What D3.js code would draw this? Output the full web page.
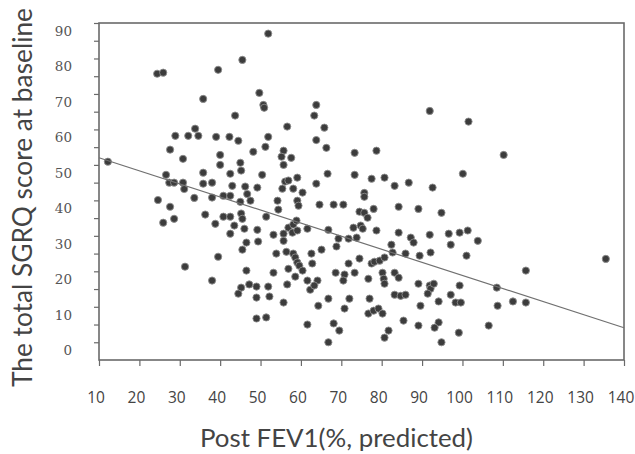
<!DOCTYPE html>
<html>
<head>
<meta charset="utf-8">
<script src="https://cdn.jsdelivr.net/npm/d3@7"></script>
<style>
  body { margin: 0; background: #ffffff; }
  svg { display: block; }
</style>
</head>
<body>
<svg id="chart" width="635" height="454"></svg>
<script>
// Post-bronchodilator FEV1 (% predicted) for each patient
const fevPredicted = [
  24.4,25.9,35.8,28.9,32.1,33.8,34.6,27.6,30.8,12.2,26.6,35.8,27.4,28.6,30.8,31.1,35.8,33.6,24.6,27.6,36.3,28.6,25.9,31.3,
  51.9,45.5,39.5,49.7,50.7,50.9,43.7,56.6,63.8,63.3,39.0,42.3,44.5,51.9,51.2,63.8,48.2,55.7,40.0,55.2,57.6,40.0,45.0,55.7,45.2,42.5,50.4,59.1,56.1,56.9,38.0,43.0,46.2,49.2,55.4,58.1,
  38.0,40.8,42.5,60.4,45.0,46.7,47.5,54.2,59.1,59.4,40.8,42.5,45.2,45.5,51.4,54.4,38.8,43.5,46.0,49.2,42.5,53.2,55.7,56.9,58.1,57.9,59.1,61.6,58.9,55.7,49.4,46.5,45.5,39.5,53.9,56.4,58.1,58.6,59.1,59.6,60.4,62.6,62.8,56.9,58.6,53.2,46.5,38.0,45.2,44.5,47.2,49.0,51.9,56.6,61.6,62.3,49.0,52.2,55.7,49.0,51.4,61.6,
  65.8,66.3,73.3,78.7,66.6,63.8,73.3,77.5,80.7,83.2,86.7,75.7,75.7,64.6,68.1,70.5,84.2,89.1,74.5,75.7,78.0,76.5,73.0,74.8,75.3,78.7,84.2,87.2,87.9,66.8,69.3,71.8,73.8,68.8,82.4,82.7,85.9,89.4,65.1,74.5,71.8,68.6,70.8,70.5,73.3,77.5,78.2,79.5,80.7,76.7,80.2,80.5,80.7,83.2,84.2,64.1,63.3,89.1,83.2,84.7,85.9,66.8,72.0,77.0,64.3,70.8,76.7,78.0,79.2,80.2,85.4,89.1,68.1,69.5,81.7,80.7,66.8,
  91.9,101.5,110.2,100.1,92.6,94.8,91.9,96.6,99.3,101.3,103.8,97.1,92.1,101.0,91.9,92.1,91.4,92.9,99.3,97.1,98.3,99.6,94.1,89.6,108.5,108.7,112.5,115.7,115.7,94.1,93.1,99.1,106.5,94.8,135.5
];

// Total SGRQ score at baseline, same order as above
const sgrqTotal = [
  75.7,76.0,68.6,58.2,58.2,60.2,58.2,54.3,51.7,50.9,47.2,47.8,45.0,45.0,45.0,43.2,44.7,40.7,40.1,38.2,36.0,34.8,33.7,21.3,
  87.0,79.6,76.8,70.3,66.9,66.1,63.9,60.8,66.9,63.9,57.9,57.9,56.8,57.9,55.1,57.0,53.7,54.0,52.8,52.3,52.0,50.0,50.6,50.0,48.4,47.5,47.2,46.4,45.3,45.6,45.0,44.1,43.9,43.6,43.3,43.3,
  40.8,41.3,41.3,42.2,39.6,41.8,39.9,39.9,39.9,38.5,35.4,35.4,36.3,34.8,35.4,37.4,33.4,32.9,32.0,31.7,30.6,30.3,30.6,32.3,33.2,30.9,31.5,32.0,34.3,28.6,28.4,28.1,26.1,24.1,25.0,25.5,25.0,23.9,22.5,21.6,20.2,25.0,22.2,20.7,18.5,19.6,20.2,17.4,15.4,13.7,16.3,15.7,15.7,16.3,17.4,14.8,12.6,12.9,11.2,6.7,7.0,5.0,
  60.5,54.8,53.4,54.0,47.5,44.7,47.2,46.1,46.4,44.1,45.0,42.1,41.0,38.8,38.8,38.8,38.2,37.6,36.8,36.5,37.6,35.1,32.3,32.9,32.0,31.5,30.9,29.5,28.1,31.7,29.2,29.2,29.5,27.0,27.5,25.3,25.0,24.4,26.1,23.6,22.2,19.6,19.1,17.4,19.6,22.2,22.7,23.0,23.9,17.9,19.6,17.9,16.5,19.6,18.2,17.4,16.0,16.5,13.4,13.1,13.4,12.3,12.3,12.3,10.3,9.5,8.1,8.9,9.5,8.1,6.1,4.7,5.3,3.3,3.3,1.3,0.0,
  65.2,62.2,52.8,47.5,43.6,36.5,30.3,30.6,30.9,31.5,28.6,27.5,25.3,24.4,16.0,15.1,13.7,16.5,16.0,13.4,11.2,11.2,11.5,10.3,15.4,10.3,11.5,11.2,20.2,5.6,4.1,2.7,4.7,0.0,23.5
];

// Linear fit drawn across the full x range
const fitX = [10, 140];
const fitY = [52.0, 4.1];

const xTickValues = [10, 20, 30, 40, 50, 60, 70, 80, 90, 100, 110, 120, 130, 140];
const yTickValues = [0, 10, 20, 30, 40, 50, 60, 70, 80, 90];
const yMinorTicks = d3.range(0, 91, 5);

const xTitle = "Post FEV1(%, predicted)";
const yTitle = "The total SGRQ score at baseline";

const svg = d3.select("#chart");
const plot = { left: 99, right: 624, top: 23, bottom: 360 };

const x = d3.scaleLinear().domain([10, 140]).range([plot.left, plot.right]);
const y = d3.scaleLinear().domain([-5, 90]).range([plot.bottom, plot.top]);

const axisColor = "#6a6a6a";

// Y axis: short ticks every 5 units, labels every 10 (sitting slightly below their ticks)
const yAxis = svg.append("g")
  .attr("transform", `translate(${plot.left},0)`)
  .call(d3.axisLeft(y).tickValues(yMinorTicks).tickSize(5).tickFormat(""));
yAxis.select(".domain").remove();
yAxis.selectAll(".tick line").attr("stroke", axisColor).attr("stroke-width", 1.2);

svg.append("g").selectAll("text")
  .data(yTickValues)
  .join("text")
  .attr("x", 72)
  .attr("y", d => y(d) + 8)
  .attr("dy", "0.35em")
  .attr("text-anchor", "end")
  .attr("font-family", "DejaVu Serif")
  .attr("font-size", 13.5)
  .attr("fill", "#555")
  .text(d => d);

// X axis: ticks every 10 hanging below the frame
const xAxis = svg.append("g")
  .attr("transform", `translate(0,${plot.bottom})`)
  .call(d3.axisBottom(x).tickValues(xTickValues).tickSize(6).tickFormat(""));
xAxis.select(".domain").remove();
xAxis.selectAll(".tick line").attr("stroke", axisColor).attr("stroke-width", 1.2);

svg.append("g").selectAll("text")
  .data(xTickValues)
  .join("text")
  .attr("x", d => x(d) - 3)
  .attr("y", 403)
  .attr("text-anchor", "middle")
  .attr("font-family", "Open Sans")
  .attr("font-size", 15.5)
  .attr("fill", "#444")
  .text(d => d);

// Plot frame
svg.append("rect")
  .attr("x", plot.left)
  .attr("y", plot.top)
  .attr("width", plot.right - plot.left)
  .attr("height", plot.bottom - plot.top)
  .attr("fill", "none")
  .attr("stroke", axisColor)
  .attr("stroke-width", 1.6);

// Data points
const points = fevPredicted.map((v, i) => ({ fev: v, sgrq: sgrqTotal[i] }));
svg.append("g").selectAll("circle")
  .data(points)
  .join("circle")
  .attr("cx", d => x(d.fev))
  .attr("cy", d => y(d.sgrq))
  .attr("r", 3.6)
  .attr("fill", "#3c3c3c")
  .attr("stroke", "#8c8c8c")
  .attr("stroke-width", 0.9);

// Regression line
const line = d3.line().x(d => x(d[0])).y(d => y(d[1]));
svg.append("path")
  .datum(fitX.map((v, i) => [v, fitY[i]]))
  .attr("d", line)
  .attr("fill", "none")
  .attr("stroke", "#707070")
  .attr("stroke-width", 1.2);

// Axis titles
svg.append("text")
  .attr("x", 200)
  .attr("y", 447)
  .attr("font-family", "Lato")
  .attr("font-size", 25)
  .attr("fill", "#444")
  .attr("textLength", 273)
  .attr("lengthAdjust", "spacingAndGlyphs")
  .text(xTitle);

svg.append("text")
  .attr("transform", "translate(32,387) rotate(-90)")
  .attr("x", 0)
  .attr("y", 0)
  .attr("font-family", "Lato")
  .attr("font-size", 26)
  .attr("fill", "#444")
  .attr("textLength", 379)
  .attr("lengthAdjust", "spacingAndGlyphs")
  .text(yTitle);
</script>
</body>
</html>
